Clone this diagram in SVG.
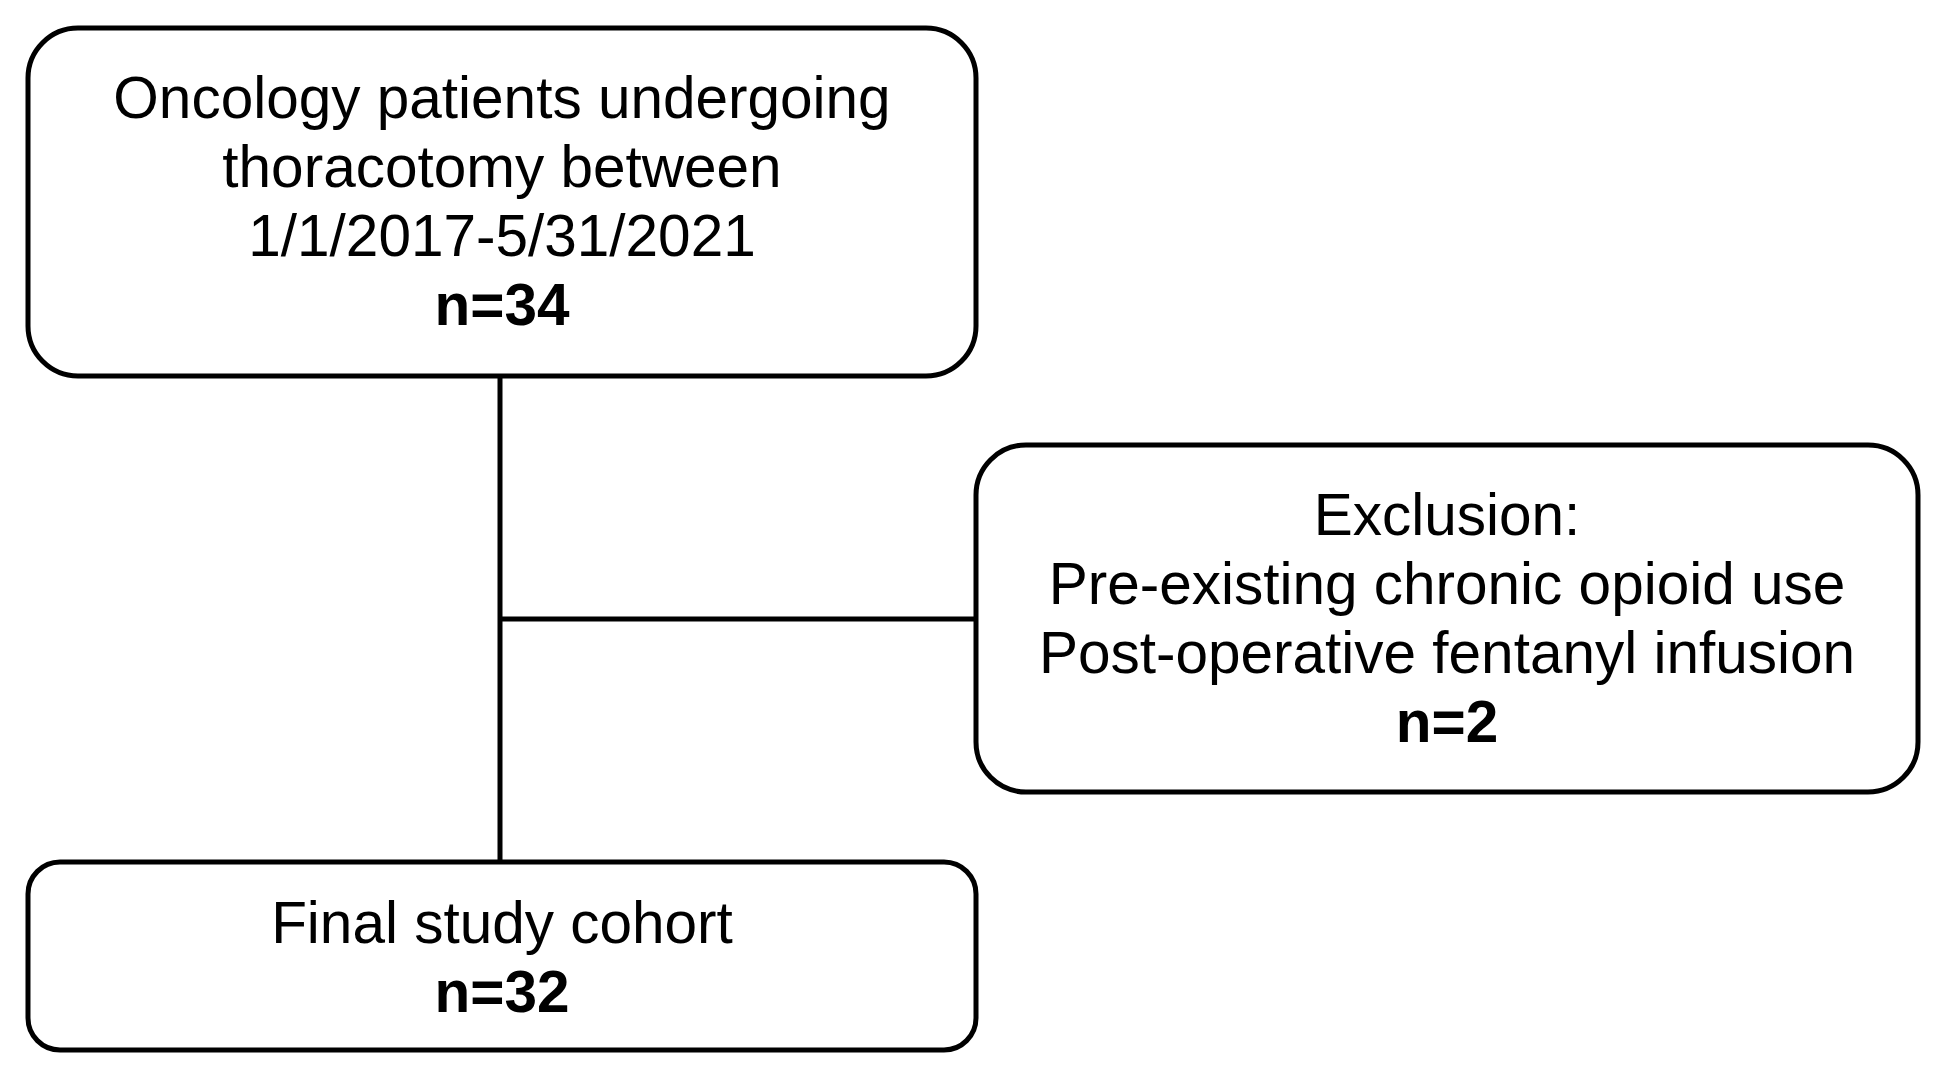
<svg xmlns="http://www.w3.org/2000/svg" width="1950" height="1075" viewBox="0 0 1950 1075">
<style>
.box{fill:#fff;stroke:#000;stroke-width:5}
.t{font-family:"Liberation Sans",Arial,sans-serif;font-size:58.5px;fill:#000;text-anchor:middle}
.b{font-weight:bold}
.c{stroke:#000;stroke-width:5;fill:none}
</style>
<rect width="1950" height="1075" fill="#fff"/>
<g id="connectors">
<line class="c" x1="500" y1="376" x2="500" y2="862"/>
<line class="c" x1="500" y1="619" x2="976" y2="619"/>
</g>
<g id="node-start">
<rect class="box" x="28" y="28" width="948" height="348" rx="50"/>
<text class="t" x="502" y="118">Oncology patients undergoing</text>
<text class="t" x="502" y="187">thoracotomy between</text>
<text class="t" x="502" y="256">1/1/2017-5/31/2021</text>
<text class="t b" x="502" y="325">n=34</text>
</g>
<g id="node-exclusion">
<rect class="box" x="976" y="445" width="942" height="347" rx="50"/>
<text class="t" x="1447" y="535">Exclusion:</text>
<text class="t" x="1447" y="604">Pre-existing chronic opioid use</text>
<text class="t" x="1447" y="673">Post-operative fentanyl infusion</text>
<text class="t b" x="1447" y="742">n=2</text>
</g>
<g id="node-final">
<rect class="box" x="28" y="862" width="948" height="188" rx="32"/>
<text class="t" x="502" y="943">Final study cohort</text>
<text class="t b" x="502" y="1012">n=32</text>
</g>
</svg>
